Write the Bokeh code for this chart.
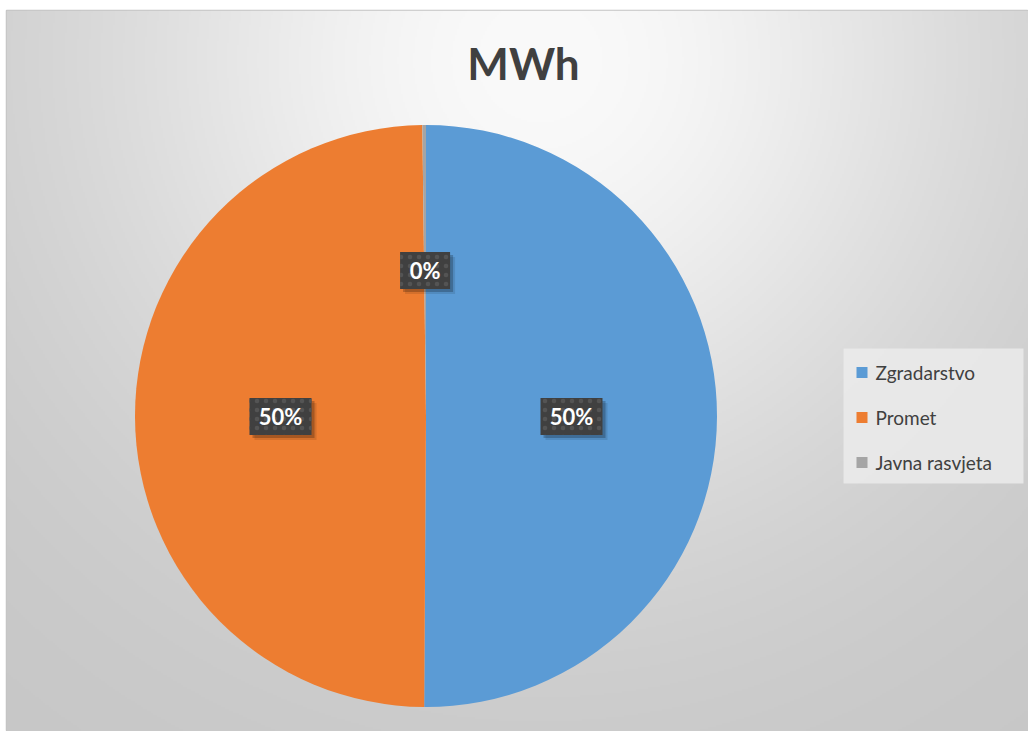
import numpy as np
from bokeh.plotting import figure
from bokeh.models import Range1d, ColumnDataSource
from bokeh.core.properties import value
from bokeh.embed import file_html
from bokeh.resources import INLINE

# ---- data ----
categories = ["Zgradarstvo", "Promet", "Javna rasvjeta"]
shares = [50.1, 49.7, 0.2]
colors = ["#5B9BD5", "#ED7D31", "#A5A5A5"]
title_text = "MWh"

# ---- layout (pixels) ----
PW, PH = 1028, 731
BL, BT = 6, 10
FW, FH = PW - BL, PH - BT
CX, CY, R = 419.5, 315.5, 291

vals = np.array(shares, dtype=float)
total = vals.sum()
cum = np.cumsum(vals)
starts = np.pi / 2 - 2 * np.pi * (cum - vals) / total
ends = np.pi / 2 - 2 * np.pi * cum / total
mids = (starts + ends) / 2
labels = [f"{round(100 * v / total):.0f}%" for v in vals]
lx = CX + 0.5 * R * np.cos(mids)
ly = CY + 0.5 * R * np.sin(mids)
bw = [26 + 12 * len(s) for s in labels]

p = figure(width=PW, height=PH, x_range=Range1d(0, FW), y_range=Range1d(0, FH),
           x_axis_type=None, y_axis_type=None, toolbar_location=None,
           output_backend="svg", min_border=0, min_border_left=BL, min_border_top=BT)
p.grid.visible = False
p.outline_line_color = "#c4c4c4"
p.outline_line_width = 1.5
p.background_fill_color = "#e0e0e0"
p.border_fill_color = "white"

# background radial gradient
h2, w2 = FH // 2, FW // 2
yy, xx = np.mgrid[0:h2, 0:w2]
px = BL + (xx + 0.5) * FW / w2
py = BT + FH - (yy + 0.5) * FH / h2
d = np.hypot(px - 540, py - 60)
g = (198 + 52 * np.exp(-(d / 450.0) ** 2)).astype(np.uint32)
img = ((255 << 24) | (g << 16) | (g << 8) | g).astype(np.uint32)
p.image_rgba(image=[img], x=0, y=0, dw=FW, dh=FH)

src = ColumnDataSource(dict(cat=categories, start=starts, end=ends, color=colors))
wr = p.wedge(x=CX, y=CY, radius=R, start_angle="start", end_angle="end",
             direction="clock", fill_color="color", line_color=None, source=src)

# label boxes with shadow
p.rect(x=lx + 5, y=ly - 5, width=bw, height=37, fill_color="black", fill_alpha=0.10, line_color=None)
p.rect(x=lx + 3, y=ly - 3, width=bw, height=37, fill_color="black", fill_alpha=0.22, line_color=None)
p.rect(x=lx, y=ly, width=bw, height=37, fill_color="#404040", line_color=None,
       hatch_pattern="dot", hatch_color="#545454", hatch_scale=9, hatch_weight=1.2)
p.text(x=lx, y=ly, text=labels, text_font=value("Lato"), text_font_style="bold",
       text_font_size="22px", text_color="white", text_align="center", text_baseline="middle")

# title
p.text(x=[517], y=[669], text=[title_text], text_font=value("Lato"), text_font_style="bold",
       text_font_size="44px", text_color="#404040", text_align="center", text_baseline="middle")

# legend (drawn manually to match the box size)
LX0, LY0, LWID, LHT = 837, 248, 180, 135
p.rect(x=[LX0 + LWID / 2], y=[LY0 + LHT / 2], width=LWID, height=LHT,
       fill_color="#ebebeb", fill_alpha=0.85, line_color=None)
n = len(categories)
row_y = [LY0 + LHT - 24 - 45 * i for i in range(n)]
p.rect(x=[LX0 + 13 + 5.5] * n, y=row_y, width=11, height=11, fill_color=colors, line_color=None)
p.text(x=[LX0 + 32] * n, y=row_y, text=categories, text_font=value("Lato"),
       text_font_size="19px", text_color="#404040", text_align="left", text_baseline="middle")

open("out.html", "w").write(file_html(p, INLINE))
